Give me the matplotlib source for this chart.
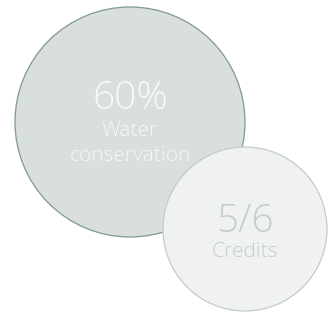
import matplotlib.pyplot as plt
from matplotlib.patches import Circle

plt.rcParams['font.family'] = ['Open Sans', 'DejaVu Sans']

# data
labels = ["Water\nconservation", "Credits"]
values = ["60%", "5/6"]
centers = [(130, 122), (245, 229)]
radii = [115, 82]
fills = ["#d9dfda", "#f0f2f1"]
edges = ["#7f9896", "#c3ccc6"]
text_colors = ["#f7f8f7", "#c6cec9"]

fig = plt.figure(figsize=(3.33, 3.12), dpi=100)
ax = fig.add_axes([0, 0, 1, 1])
ax.set_xlim(0, 333)
ax.set_ylim(312, 0)
ax.set_aspect('equal')
ax.axis('off')

for i in range(2):
    ax.add_patch(Circle(centers[i], radii[i], facecolor=fills[i],
                        edgecolor=edges[i], linewidth=0.9, zorder=i + 1))

# big circle texts
ax.text(130, 99, values[0], ha='center', va='center', fontsize=28,
        color=text_colors[0], fontweight='light', zorder=5)
ax.text(130, 131, "Water", ha='center', va='center', fontsize=15,
        color=text_colors[0], fontweight='light', zorder=5)
ax.text(130, 156, "conservation", ha='center', va='center', fontsize=15,
        color=text_colors[0], fontweight='light', zorder=5)

# small circle texts
ax.text(245, 222, values[1], ha='center', va='center', fontsize=28,
        color=text_colors[1], fontweight='light', zorder=5)
ax.text(245, 252, labels[1], ha='center', va='center', fontsize=15,
        color=text_colors[1], fontweight='light', zorder=5)

fig.savefig("out.png", dpi=100, facecolor='white')
